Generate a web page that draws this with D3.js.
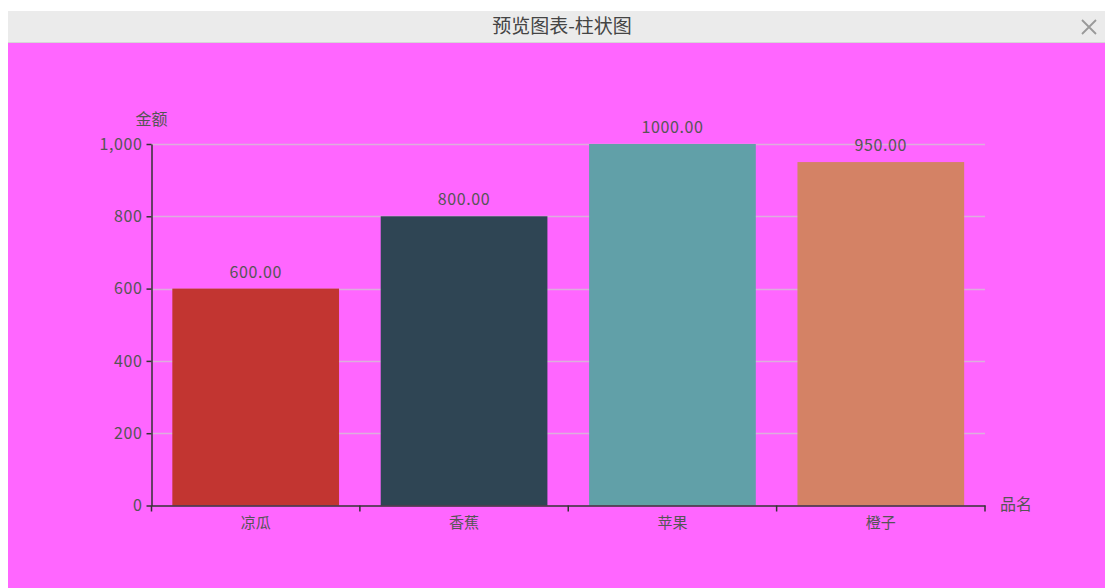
<!DOCTYPE html>
<html>
<head>
<meta charset="utf-8">
<script src="https://cdn.jsdelivr.net/npm/d3@7/dist/d3.min.js"></script>
<style>
html,body{margin:0;padding:0;background:#fff;overflow:hidden;}
svg{display:block;}
</style>
</head>
<body>
<svg id="chart" width="1105" height="588"></svg>
<script>
const categories = ["凉瓜", "香蕉", "苹果", "橙子"];
const values = [600, 800, 1000, 950];
const colors = ["#c23531", "#2f4554", "#61a0a8", "#d48265"];
const yTicks = [0, 200, 400, 600, 800, 1000];
const titleText = "预览图表-柱状图";
const yName = "金额";
const xName = "品名";

(function () {
const svg = d3.select("#chart");
const font = "'Microsoft YaHei','Noto Sans CJK SC','Noto Sans',sans-serif";

// panel
svg.append("rect").attr("x", 8).attr("y", 11).attr("width", 1105).attr("height", 32).attr("fill", "#ebebeb");
svg.append("rect").attr("x", 8).attr("y", 42).attr("width", 1105).attr("height", 1).attr("fill", "#d6d6d6");
svg.append("rect").attr("x", 8).attr("y", 43).attr("width", 1105).attr("height", 560).attr("fill", "#ff66ff");
svg.append("text").attr("x", 562).attr("y", 33).attr("text-anchor", "middle")
  .attr("font-family", font).attr("font-size", 19).attr("fill", "#444").text(titleText);
// close X
const cx = 1089, cy = 27, r = 7;
svg.append("path").attr("d", `M${cx-r},${cy-r}L${cx+r},${cy+r}M${cx+r},${cy-r}L${cx-r},${cy+r}`)
  .attr("stroke", "#999").attr("stroke-width", 1.8);

const pLeft = 151.5, pRight = 985, pTop = 144, pBottom = 505.5;
const x = d3.scaleBand().domain(categories).range([pLeft, pRight]).paddingInner(0.2).paddingOuter(0.1);
const xb = d3.scaleBand().domain(categories).range([pLeft, pRight]);
const y = d3.scaleLinear().domain([0, 1000]).range([pBottom, pTop]);

// grid
svg.append("g").selectAll("line").data(yTicks.filter(d => d > 0)).join("line")
  .attr("x1", pLeft).attr("x2", pRight)
  .attr("y1", d => Math.round(y(d)) + 0.5).attr("y2", d => Math.round(y(d)) + 0.5)
  .attr("stroke", "#dcaedc").attr("stroke-width", 1.5);

// bars
svg.append("g").selectAll("rect").data(values).join("rect")
  .attr("x", (d, i) => x(categories[i]))
  .attr("width", x.bandwidth())
  .attr("y", d => y(d))
  .attr("height", d => pBottom - y(d))
  .attr("fill", (d, i) => colors[i]);

// value labels
svg.append("g").selectAll("text").data(values).join("text")
  .attr("x", (d, i) => x(categories[i]) + x.bandwidth() / 2)
  .attr("y", d => y(d) - 11)
  .attr("text-anchor", "middle")
  .attr("font-family", font).attr("font-size", 16).attr("letter-spacing", "0.6px").attr("fill", "#555")
  .text(d => d.toFixed(2));

// y axis
const yAxis = d3.axisLeft(y).tickValues(yTicks).tickFormat(d3.format(",")).tickSize(5).tickSizeOuter(0);
const gy = svg.append("g").attr("transform", `translate(${pLeft},0)`).call(yAxis);
gy.select(".domain").attr("stroke", "#333").attr("stroke-width", 1.5);
gy.selectAll(".tick line").attr("stroke", "#333").attr("stroke-width", 1.5);
gy.selectAll(".tick text").attr("font-family", font).attr("font-size", 16).attr("letter-spacing", "0.6px").attr("fill", "#555").attr("x", -9);

// x axis
const xAxis = d3.axisBottom(xb).tickSize(0).tickSizeOuter(0);
const gx = svg.append("g").attr("transform", `translate(0,${pBottom})`).call(xAxis);
gx.select(".domain").attr("stroke", "#333").attr("stroke-width", 1.5);
gx.selectAll(".tick text").attr("font-family", font).attr("font-size", 15).attr("fill", "#555").attr("dy", "1.3em");
// boundary ticks
const bounds = [pLeft].concat(categories.map(c => xb(c) + xb.bandwidth()));
svg.append("g").selectAll("line").data(bounds).join("line")
  .attr("x1", d => d).attr("x2", d => d).attr("y1", pBottom).attr("y2", pBottom + 6)
  .attr("stroke", "#333").attr("stroke-width", 1.5);

// axis names
svg.append("text").attr("x", pLeft).attr("y", 125).attr("text-anchor", "middle")
  .attr("font-family", font).attr("font-size", 16).attr("fill", "#555").text(yName);
svg.append("text").attr("x", pRight + 15).attr("y", pBottom + 4).attr("text-anchor", "start")
  .attr("font-family", font).attr("font-size", 16).attr("fill", "#555").text(xName);
})();
</script>
</body>
</html>
